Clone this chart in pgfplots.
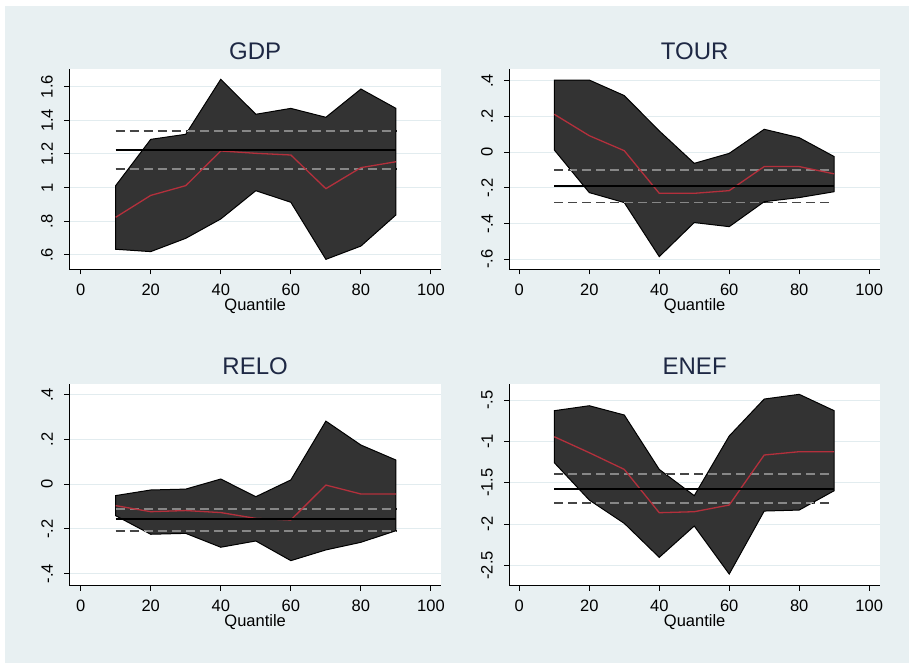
\documentclass[border=0pt]{standalone}
\usepackage{pgfplots}
\pgfplotsset{compat=1.18}
\usepackage{fontspec}
\setmainfont{Liberation Sans}
\definecolor{bgcol}{RGB}{232,240,242}
\definecolor{gridcol}{RGB}{226,236,239}
\definecolor{bandcol}{RGB}{51,51,51}
\definecolor{redcol}{RGB}{180,48,60}
\definecolor{titlecol}{RGB}{30,40,68}
\definecolor{dashcol}{RGB}{186,186,186}
\pgfplotsset{
  qplot/.style={
    scale only axis, anchor=south west,
    axis background/.style={fill=white},
    axis x line*=bottom, axis y line*=left,
    axis line style={black, line width=1pt},
    tick style={black, line width=1pt},
    tick align=outside, major tick length=5pt,
    xmin=-3.24, xmax=102.86,
    xtick={0,20,40,60,80,100},
    xticklabels={0,20,40,60,80,100},
    ymajorgrids, major grid style={gridcol, line width=1pt},
    ticklabel style={font=\fontsize{16.5}{19}\selectfont},
    yticklabel style={rotate=90, anchor=south},
    xticklabel shift=6pt, yticklabel shift=8pt,
    xlabel={Quantile},
    xlabel style={font=\fontsize{16.5}{19}\selectfont, yshift=4pt},
    title style={font=\fontsize{24}{28}\selectfont, color=titlecol, at={(0.5,1)}, anchor=base, yshift=3pt},
  },
  band/.style={fill=bandcol, draw=black, line width=1pt},
  qline/.style={redcol, line width=1.3pt},
  ols/.style={black, line width=1.8pt},
  ci/.style={dashcol, line width=1.8pt, dash pattern=on 9pt off 5pt, blend mode=difference},
}
\begin{document}
\begin{tikzpicture}[x=1pt,y=1pt]
\fill[white] (0,0) rectangle (909,663);
\fill[bgcol] (5,0) rectangle (909,657);

% GDP
\begin{axis}[qplot, at={(69.3pt,393.7pt)}, width=371.7pt, height=200.3pt,
  ymin=0.515, ymax=1.705, ytick={0.6,0.8,1,1.2,1.4,1.6},
  yticklabels={.6,.8,1,1.2,1.4,1.6}, title={GDP}]
\addplot[band] coordinates {(10,1.012) (20,1.287) (30,1.317) (40,1.644) (50,1.436) (60,1.471) (70,1.418) (80,1.586) (90,1.471)
 (90,0.838) (80,0.653) (70,0.574) (60,0.913) (50,0.982) (40,0.814) (30,0.699) (20,0.620) (10,0.634)} -- cycle;
\addplot[ci] coordinates {(10,1.335) (90,1.335)};
\addplot[ci] coordinates {(10,1.109) (90,1.109)};
\addplot[qline] coordinates {(10,0.824) (20,0.954) (30,1.012) (40,1.218) (50,1.204) (60,1.194) (70,0.994) (80,1.119) (90,1.154)};
\addplot[ols] coordinates {(10,1.226) (90,1.226)};
\end{axis}

% TOUR
\begin{axis}[qplot, at={(509.3pt,393.7pt)}, width=370.7pt, height=200.3pt,
  xmin=-2.86, xmax=103.1,
  ymin=-0.656, ymax=0.467, ytick={-0.6,-0.4,-0.2,0,0.2,0.4},
  yticklabels={-.6,-.4,-.2,0,.2,.4}, title={TOUR}]
\addplot[band] coordinates {(10,0.405) (20,0.405) (30,0.318) (40,0.120) (50,-0.062) (60,-0.006) (70,0.129) (80,0.082) (90,-0.024)
 (90,-0.221) (80,-0.254) (70,-0.277) (60,-0.417) (50,-0.394) (40,-0.585) (30,-0.282) (20,-0.226) (10,0.013)} -- cycle;
\addplot[ci] coordinates {(10,-0.099) (90,-0.099)};
\addplot[ci] coordinates {(10,-0.282) (90,-0.282)};
\addplot[qline] coordinates {(10,0.213) (20,0.093) (30,0.009) (40,-0.230) (50,-0.230) (60,-0.215) (70,-0.080) (80,-0.080) (90,-0.121)};
\addplot[ols] coordinates {(10,-0.187) (90,-0.187)};
\end{axis}

% RELO
\begin{axis}[qplot, at={(69.3pt,77.3pt)}, width=371.7pt, height=201.7pt,
  ymin=-0.454, ymax=0.448, ytick={-0.4,-0.2,0,0.2,0.4},
  yticklabels={-.4,-.2,0,.2,.4}, title={RELO}]
\addplot[band] coordinates {(10,-0.051) (20,-0.026) (30,-0.022) (40,0.023) (50,-0.056) (60,0.019) (70,0.282) (80,0.175) (90,0.108)
 (90,-0.208) (80,-0.260) (70,-0.294) (60,-0.342) (50,-0.254) (40,-0.282) (30,-0.220) (20,-0.224) (10,-0.141)} -- cycle;
\addplot[ci] coordinates {(10,-0.111) (90,-0.111)};
\addplot[ci] coordinates {(10,-0.208) (90,-0.208)};
\addplot[qline] coordinates {(10,-0.096) (20,-0.123) (30,-0.118) (40,-0.127) (50,-0.153) (60,-0.160) (70,-0.004) (80,-0.044) (90,-0.044)};
\addplot[ols] coordinates {(10,-0.156) (90,-0.156)};
\end{axis}

% ENEF
\begin{axis}[qplot, at={(509.3pt,77.3pt)}, width=370.7pt, height=201.7pt,
  xmin=-2.86, xmax=103.1,
  ymin=-2.746, ymax=-0.306, ytick={-2.5,-2,-1.5,-1,-0.5},
  yticklabels={-2.5,-2,-1.5,-1,-.5}, title={ENEF}]
\addplot[band] coordinates {(10,-0.629) (20,-0.569) (30,-0.681) (40,-1.339) (50,-1.657) (60,-0.935) (70,-0.488) (80,-0.431) (90,-0.629)
 (90,-1.597) (80,-1.831) (70,-1.843) (60,-2.605) (50,-2.024) (40,-2.403) (30,-1.992) (20,-1.710) (10,-1.258)} -- cycle;
\addplot[ci] coordinates {(10,-1.395) (90,-1.395)};
\addplot[ci] coordinates {(10,-1.742) (90,-1.742)};
\addplot[qline] coordinates {(10,-0.944) (20,-1.137) (30,-1.339) (40,-1.863) (50,-1.851) (60,-1.770) (70,-1.165) (80,-1.125) (90,-1.125)};
\addplot[ols] coordinates {(10,-1.577) (90,-1.577)};
\end{axis}
\end{tikzpicture}
\end{document}
